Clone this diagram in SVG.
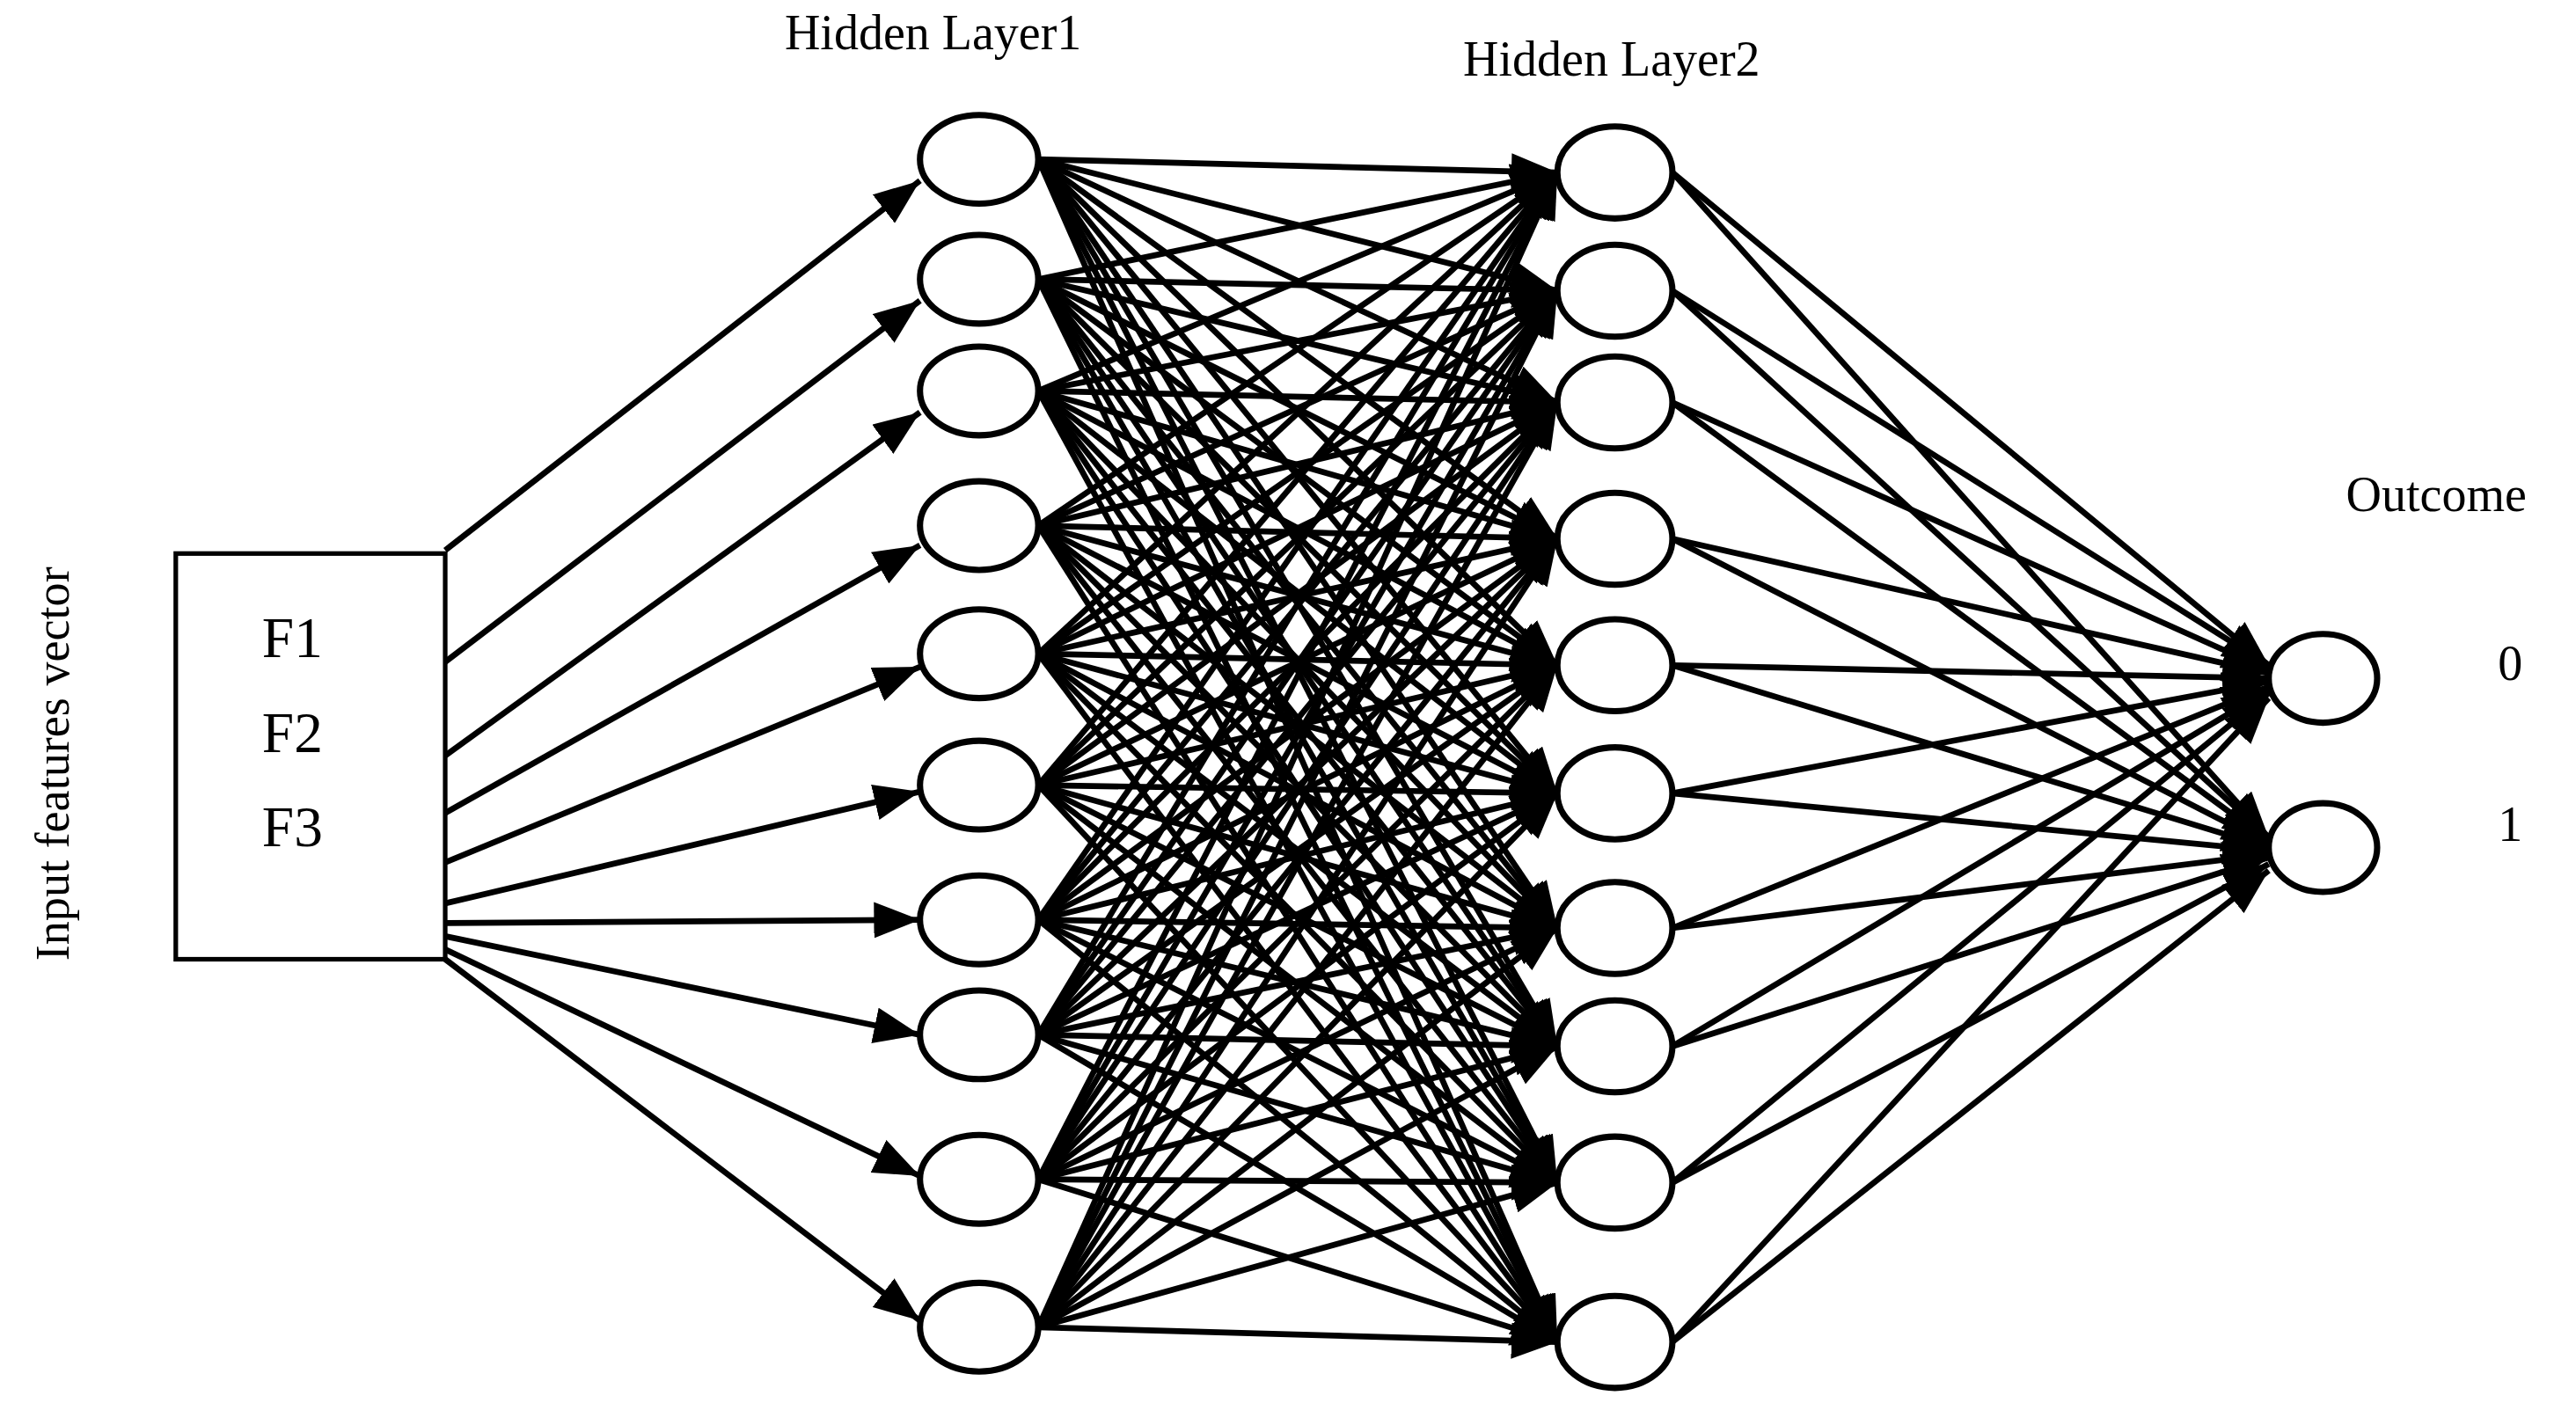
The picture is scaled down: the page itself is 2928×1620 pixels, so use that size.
<svg xmlns="http://www.w3.org/2000/svg" width="2928" height="1620" viewBox="0 0 2928 1620">
<style>
.n{fill:#fff;stroke:#000;stroke-width:3.8}
.c line{stroke:#000;stroke-width:3.6}
.t{font-family:"Liberation Serif",serif;fill:#000}
</style>
<defs>
<marker id="a" markerUnits="userSpaceOnUse" markerWidth="28" markerHeight="22" refX="28" refY="11" orient="auto"><path d="M0,0 L28,11 L0,22 z" fill="#000"/></marker>
</defs>
<rect width="2928" height="1620" fill="#fff"/>
<g transform="scale(1.8673)">
<g id="connectors" class="c">
<g id="inl1">
<line x1="271" y1="335" x2="560" y2="110" marker-end="url(#a)"/>
<line x1="271" y1="403" x2="560" y2="183" marker-end="url(#a)"/>
<line x1="271" y1="460" x2="560" y2="251" marker-end="url(#a)"/>
<line x1="271" y1="495" x2="560" y2="332" marker-end="url(#a)"/>
<line x1="271" y1="525" x2="560" y2="406" marker-end="url(#a)"/>
<line x1="271" y1="550" x2="560" y2="482" marker-end="url(#a)"/>
<line x1="271" y1="562" x2="560" y2="560" marker-end="url(#a)"/>
<line x1="271" y1="570" x2="560" y2="630" marker-end="url(#a)"/>
<line x1="271" y1="578" x2="560" y2="716" marker-end="url(#a)"/>
<line x1="271" y1="584" x2="560" y2="804" marker-end="url(#a)"/>
</g>
<g id="l1l2">
<line x1="632" y1="97" x2="948" y2="105" marker-end="url(#a)"/><line x1="632" y1="97" x2="948" y2="177" marker-end="url(#a)"/><line x1="632" y1="97" x2="948" y2="245" marker-end="url(#a)"/><line x1="632" y1="97" x2="948" y2="328" marker-end="url(#a)"/><line x1="632" y1="97" x2="948" y2="405" marker-end="url(#a)"/><line x1="632" y1="97" x2="948" y2="483" marker-end="url(#a)"/><line x1="632" y1="97" x2="948" y2="565" marker-end="url(#a)"/><line x1="632" y1="97" x2="948" y2="637" marker-end="url(#a)"/><line x1="632" y1="97" x2="948" y2="720" marker-end="url(#a)"/><line x1="632" y1="97" x2="948" y2="817" marker-end="url(#a)"/>
<line x1="632" y1="170" x2="948" y2="105" marker-end="url(#a)"/><line x1="632" y1="170" x2="948" y2="177" marker-end="url(#a)"/><line x1="632" y1="170" x2="948" y2="245" marker-end="url(#a)"/><line x1="632" y1="170" x2="948" y2="328" marker-end="url(#a)"/><line x1="632" y1="170" x2="948" y2="405" marker-end="url(#a)"/><line x1="632" y1="170" x2="948" y2="483" marker-end="url(#a)"/><line x1="632" y1="170" x2="948" y2="565" marker-end="url(#a)"/><line x1="632" y1="170" x2="948" y2="637" marker-end="url(#a)"/><line x1="632" y1="170" x2="948" y2="720" marker-end="url(#a)"/><line x1="632" y1="170" x2="948" y2="817" marker-end="url(#a)"/>
<line x1="632" y1="238" x2="948" y2="105" marker-end="url(#a)"/><line x1="632" y1="238" x2="948" y2="177" marker-end="url(#a)"/><line x1="632" y1="238" x2="948" y2="245" marker-end="url(#a)"/><line x1="632" y1="238" x2="948" y2="328" marker-end="url(#a)"/><line x1="632" y1="238" x2="948" y2="405" marker-end="url(#a)"/><line x1="632" y1="238" x2="948" y2="483" marker-end="url(#a)"/><line x1="632" y1="238" x2="948" y2="565" marker-end="url(#a)"/><line x1="632" y1="238" x2="948" y2="637" marker-end="url(#a)"/><line x1="632" y1="238" x2="948" y2="720" marker-end="url(#a)"/><line x1="632" y1="238" x2="948" y2="817" marker-end="url(#a)"/>
<line x1="632" y1="320" x2="948" y2="105" marker-end="url(#a)"/><line x1="632" y1="320" x2="948" y2="177" marker-end="url(#a)"/><line x1="632" y1="320" x2="948" y2="245" marker-end="url(#a)"/><line x1="632" y1="320" x2="948" y2="328" marker-end="url(#a)"/><line x1="632" y1="320" x2="948" y2="405" marker-end="url(#a)"/><line x1="632" y1="320" x2="948" y2="483" marker-end="url(#a)"/><line x1="632" y1="320" x2="948" y2="565" marker-end="url(#a)"/><line x1="632" y1="320" x2="948" y2="637" marker-end="url(#a)"/><line x1="632" y1="320" x2="948" y2="720" marker-end="url(#a)"/><line x1="632" y1="320" x2="948" y2="817" marker-end="url(#a)"/>
<line x1="632" y1="398" x2="948" y2="105" marker-end="url(#a)"/><line x1="632" y1="398" x2="948" y2="177" marker-end="url(#a)"/><line x1="632" y1="398" x2="948" y2="245" marker-end="url(#a)"/><line x1="632" y1="398" x2="948" y2="328" marker-end="url(#a)"/><line x1="632" y1="398" x2="948" y2="405" marker-end="url(#a)"/><line x1="632" y1="398" x2="948" y2="483" marker-end="url(#a)"/><line x1="632" y1="398" x2="948" y2="565" marker-end="url(#a)"/><line x1="632" y1="398" x2="948" y2="637" marker-end="url(#a)"/><line x1="632" y1="398" x2="948" y2="720" marker-end="url(#a)"/><line x1="632" y1="398" x2="948" y2="817" marker-end="url(#a)"/>
<line x1="632" y1="478" x2="948" y2="105" marker-end="url(#a)"/><line x1="632" y1="478" x2="948" y2="177" marker-end="url(#a)"/><line x1="632" y1="478" x2="948" y2="245" marker-end="url(#a)"/><line x1="632" y1="478" x2="948" y2="328" marker-end="url(#a)"/><line x1="632" y1="478" x2="948" y2="405" marker-end="url(#a)"/><line x1="632" y1="478" x2="948" y2="483" marker-end="url(#a)"/><line x1="632" y1="478" x2="948" y2="565" marker-end="url(#a)"/><line x1="632" y1="478" x2="948" y2="637" marker-end="url(#a)"/><line x1="632" y1="478" x2="948" y2="720" marker-end="url(#a)"/><line x1="632" y1="478" x2="948" y2="817" marker-end="url(#a)"/>
<line x1="632" y1="560" x2="948" y2="105" marker-end="url(#a)"/><line x1="632" y1="560" x2="948" y2="177" marker-end="url(#a)"/><line x1="632" y1="560" x2="948" y2="245" marker-end="url(#a)"/><line x1="632" y1="560" x2="948" y2="328" marker-end="url(#a)"/><line x1="632" y1="560" x2="948" y2="405" marker-end="url(#a)"/><line x1="632" y1="560" x2="948" y2="483" marker-end="url(#a)"/><line x1="632" y1="560" x2="948" y2="565" marker-end="url(#a)"/><line x1="632" y1="560" x2="948" y2="637" marker-end="url(#a)"/><line x1="632" y1="560" x2="948" y2="720" marker-end="url(#a)"/><line x1="632" y1="560" x2="948" y2="817" marker-end="url(#a)"/>
<line x1="632" y1="630" x2="948" y2="105" marker-end="url(#a)"/><line x1="632" y1="630" x2="948" y2="177" marker-end="url(#a)"/><line x1="632" y1="630" x2="948" y2="245" marker-end="url(#a)"/><line x1="632" y1="630" x2="948" y2="328" marker-end="url(#a)"/><line x1="632" y1="630" x2="948" y2="405" marker-end="url(#a)"/><line x1="632" y1="630" x2="948" y2="483" marker-end="url(#a)"/><line x1="632" y1="630" x2="948" y2="565" marker-end="url(#a)"/><line x1="632" y1="630" x2="948" y2="637" marker-end="url(#a)"/><line x1="632" y1="630" x2="948" y2="720" marker-end="url(#a)"/><line x1="632" y1="630" x2="948" y2="817" marker-end="url(#a)"/>
<line x1="632" y1="718" x2="948" y2="105" marker-end="url(#a)"/><line x1="632" y1="718" x2="948" y2="177" marker-end="url(#a)"/><line x1="632" y1="718" x2="948" y2="245" marker-end="url(#a)"/><line x1="632" y1="718" x2="948" y2="328" marker-end="url(#a)"/><line x1="632" y1="718" x2="948" y2="405" marker-end="url(#a)"/><line x1="632" y1="718" x2="948" y2="483" marker-end="url(#a)"/><line x1="632" y1="718" x2="948" y2="565" marker-end="url(#a)"/><line x1="632" y1="718" x2="948" y2="637" marker-end="url(#a)"/><line x1="632" y1="718" x2="948" y2="720" marker-end="url(#a)"/><line x1="632" y1="718" x2="948" y2="817" marker-end="url(#a)"/>
<line x1="632" y1="808" x2="948" y2="105" marker-end="url(#a)"/><line x1="632" y1="808" x2="948" y2="177" marker-end="url(#a)"/><line x1="632" y1="808" x2="948" y2="245" marker-end="url(#a)"/><line x1="632" y1="808" x2="948" y2="328" marker-end="url(#a)"/><line x1="632" y1="808" x2="948" y2="405" marker-end="url(#a)"/><line x1="632" y1="808" x2="948" y2="483" marker-end="url(#a)"/><line x1="632" y1="808" x2="948" y2="565" marker-end="url(#a)"/><line x1="632" y1="808" x2="948" y2="637" marker-end="url(#a)"/><line x1="632" y1="808" x2="948" y2="720" marker-end="url(#a)"/><line x1="632" y1="808" x2="948" y2="817" marker-end="url(#a)"/>
</g>
<g id="l2out">
<line x1="1018" y1="105" x2="1381" y2="405" marker-end="url(#a)"/><line x1="1018" y1="105" x2="1381" y2="510" marker-end="url(#a)"/>
<line x1="1018" y1="177" x2="1381" y2="405" marker-end="url(#a)"/><line x1="1018" y1="177" x2="1381" y2="510" marker-end="url(#a)"/>
<line x1="1018" y1="245" x2="1381" y2="408" marker-end="url(#a)"/><line x1="1018" y1="245" x2="1381" y2="512" marker-end="url(#a)"/>
<line x1="1018" y1="328" x2="1381" y2="410" marker-end="url(#a)"/><line x1="1018" y1="328" x2="1381" y2="514" marker-end="url(#a)"/>
<line x1="1018" y1="405" x2="1381" y2="413" marker-end="url(#a)"/><line x1="1018" y1="405" x2="1381" y2="516" marker-end="url(#a)"/>
<line x1="1018" y1="483" x2="1381" y2="415" marker-end="url(#a)"/><line x1="1018" y1="483" x2="1381" y2="518" marker-end="url(#a)"/>
<line x1="1018" y1="565" x2="1381" y2="418" marker-end="url(#a)"/><line x1="1018" y1="565" x2="1381" y2="520" marker-end="url(#a)"/>
<line x1="1018" y1="637" x2="1381" y2="420" marker-end="url(#a)"/><line x1="1018" y1="637" x2="1381" y2="522" marker-end="url(#a)"/>
<line x1="1018" y1="720" x2="1381" y2="422" marker-end="url(#a)"/><line x1="1018" y1="720" x2="1381" y2="526" marker-end="url(#a)"/>
<line x1="1018" y1="817" x2="1381" y2="425" marker-end="url(#a)"/><line x1="1018" y1="817" x2="1381" y2="530" marker-end="url(#a)"/>
</g>
</g>
<g id="input"><rect x="107" y="337" width="164" height="247" fill="#fff" stroke="#000" stroke-width="2.8"/>
<text class="t" x="178" y="400" font-size="35" text-anchor="middle">F1</text>
<text class="t" x="178" y="458" font-size="35" text-anchor="middle">F2</text>
<text class="t" x="178" y="515" font-size="35" text-anchor="middle">F3</text></g>
<text class="t" transform="translate(42,465) rotate(-90)" font-size="29" text-anchor="middle">Input features vector</text>
<text class="t" x="568" y="30" font-size="30" text-anchor="middle">Hidden Layer1</text>
<text class="t" x="981" y="46" font-size="30" text-anchor="middle">Hidden Layer2</text>
<text class="t" x="1483" y="311" font-size="30" text-anchor="middle">Outcome</text>
<text class="t" x="1528" y="414" font-size="30" text-anchor="middle">0</text>
<text class="t" x="1528" y="512" font-size="30" text-anchor="middle">1</text>
<g id="h1">
<ellipse id="h1n1" class="n" cx="596" cy="97" rx="36" ry="27"/><ellipse id="h1n2" class="n" cx="596" cy="170" rx="36" ry="27"/><ellipse id="h1n3" class="n" cx="596" cy="238" rx="36" ry="27"/><ellipse id="h1n4" class="n" cx="596" cy="320" rx="36" ry="27"/><ellipse id="h1n5" class="n" cx="596" cy="398" rx="36" ry="27"/><ellipse id="h1n6" class="n" cx="596" cy="478" rx="36" ry="27"/><ellipse id="h1n7" class="n" cx="596" cy="560" rx="36" ry="27"/><ellipse id="h1n8" class="n" cx="596" cy="630" rx="36" ry="27"/><ellipse id="h1n9" class="n" cx="596" cy="718" rx="36" ry="27"/><ellipse id="h1n10" class="n" cx="596" cy="808" rx="36" ry="27"/>
</g>
<g id="h2">
<ellipse id="h2n1" class="n" cx="983" cy="105" rx="35" ry="28"/><ellipse id="h2n2" class="n" cx="983" cy="177" rx="35" ry="28"/><ellipse id="h2n3" class="n" cx="983" cy="245" rx="35" ry="28"/><ellipse id="h2n4" class="n" cx="983" cy="328" rx="35" ry="28"/><ellipse id="h2n5" class="n" cx="983" cy="405" rx="35" ry="28"/><ellipse id="h2n6" class="n" cx="983" cy="483" rx="35" ry="28"/><ellipse id="h2n7" class="n" cx="983" cy="565" rx="35" ry="28"/><ellipse id="h2n8" class="n" cx="983" cy="637" rx="35" ry="28"/><ellipse id="h2n9" class="n" cx="983" cy="720" rx="35" ry="28"/><ellipse id="h2n10" class="n" cx="983" cy="817" rx="35" ry="28"/>
</g>
<g id="out">
<ellipse id="o0" class="n" cx="1414" cy="413" rx="33" ry="27"/><ellipse id="o1" class="n" cx="1414" cy="516" rx="33" ry="27"/>
</g>
</g>
</svg>
